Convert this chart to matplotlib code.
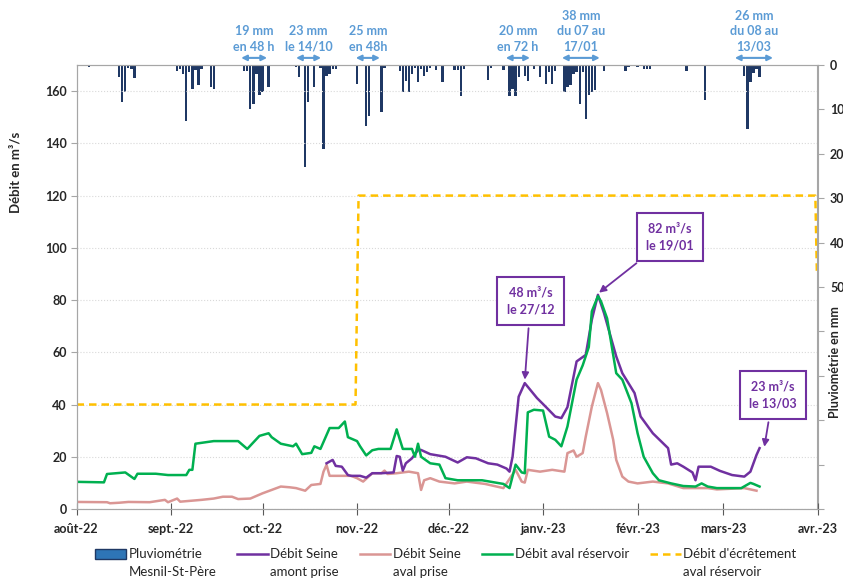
import numpy as np
import pandas as pd
import matplotlib
matplotlib.use("Agg")
import matplotlib.pyplot as plt
import matplotlib.dates as mdates
from matplotlib.patches import Patch
from matplotlib.lines import Line2D
from matplotlib.legend_handler import HandlerLine2D, HandlerPatch

plt.rcParams['font.family'] = ['Lato', 'DejaVu Sans']

# jours depuis le 01/08/2022
debut = pd.Timestamp('2022-08-01')
fin = pd.Timestamp('2023-04-01')

# Pluviométrie Mesnil-St-Père (mm/jour)
pluie_j = [4, 14, 15, 16, 17, 18, 19, 20, 33, 34, 35, 36, 37, 38, 39, 40, 41, 42, 44, 45, 48,
           55, 56, 57, 58, 59, 60, 61, 63, 65, 72, 73, 75, 76, 78, 80, 81, 82, 83, 84, 85, 86,
           92, 95, 96, 100, 101, 102, 105, 106, 107, 108, 109, 110, 111, 112, 113, 114, 115, 116,
           118, 120, 121, 124, 125, 126, 127, 128, 135, 136, 140, 142, 143, 144, 145, 147, 148,
           150, 152, 154, 155, 156, 157, 160, 161, 162, 163, 164, 165, 166, 167, 168, 169, 170,
           173, 180, 181, 182, 183, 184, 186, 187, 188, 200, 201, 206, 207, 219, 220, 221, 222,
           223, 224]
pluie_mm = [0.5, 2.8, 8.4, 6.1, 0.7, 0.8, 3.0, 0.3, 1.3, 1.0, 2.0, 12.6, 1.6, 5.4, 1.2, 4.6, 1.0,
            0.3, 5.0, 5.4, 0.3, 1.3, 1.3, 9.8, 8.8, 2.0, 6.8, 6.1, 5.0, 0.3, 0.5, 2.8, 23.0, 8.4,
            5.0, 0.7, 18.9, 2.5, 2.0, 1.0, 0.8, 0.3, 4.3, 13.7, 11.4, 10.5, 0.7, 0.3, 0.3, 1.3,
            6.1, 3.5, 6.0, 2.0, 0.7, 3.9, 1.0, 2.4, 1.6, 0.7, 1.1, 3.9, 0.2, 1.2, 1.2, 6.9, 1.0,
            0.3, 3.3, 0.7, 1.2, 6.9, 5.5, 6.9, 2.8, 2.5, 3.5, 0.9, 2.6, 4.3, 1.6, 4.3, 1.3, 6.1,
            5.0, 4.6, 2.0, 1.5, 8.8, 1.5, 12.2, 6.8, 6.1, 5.7, 1.3, 1.3, 0.4, 0.3, 0.3, 0.4, 0.9,
            0.9, 0.9, 1.3, 0.3, 7.8, 0.2, 2.4, 14.4, 3.9, 1.7, 1.0, 2.8]

# Débit Seine amont prise (m3/s)
amont_j = [82, 84, 85, 87, 89, 90, 93, 95, 97, 100, 104, 105, 106, 107, 108, 110, 112, 113, 116,
           121, 125, 128, 131, 135, 138, 141, 142, 143, 145, 147, 151, 154, 157, 159, 161, 164,
           167, 169, 171, 173, 177, 179, 183, 185, 189, 194, 195, 197, 199, 202, 203, 204, 208,
           211, 215, 219, 221, 223, 224]
amont_q = [17.5, 18.8, 16.5, 16.2, 13.0, 12.7, 12.7, 12.0, 13.7, 13.7, 14.0, 20.3, 20.0, 14.7,
           17.5, 19.4, 22.6, 22.6, 21.0, 20.0, 17.8, 19.8, 19.4, 17.5, 17.0, 15.5, 14.3, 20.0,
           43.0, 48.2, 42.5, 39.0, 35.4, 34.8, 39.0, 56.5, 59.0, 72.5, 82.0, 75.0, 58.4, 52.0,
           44.4, 35.4, 29.0, 23.3, 17.0, 17.5, 16.2, 14.0, 11.0, 16.2, 16.2, 14.6, 13.0, 12.4,
           14.3, 20.7, 23.3]

# Débit Seine aval prise (m3/s)
aval_j = [0, 10, 11, 14, 17, 24, 29, 30, 33, 34, 38, 41, 45, 48, 51, 53, 57, 61, 64, 67, 70, 72,
          75, 77, 80, 81, 82, 83, 90, 92, 94, 97, 100, 101, 102, 105, 109, 112, 113, 114, 116,
          119, 124, 128, 134, 140, 144, 146, 147, 148, 152, 156, 160, 161, 163, 164, 166, 167,
          169, 171, 172, 174, 176, 177, 179, 181, 184, 189, 194, 199, 203, 207, 210, 219, 223]
aval_q = [2.7, 2.6, 2.2, 2.4, 2.7, 2.6, 3.5, 2.6, 4.0, 2.8, 3.2, 3.5, 4.0, 4.7, 4.7, 3.8, 4.0,
          6.0, 7.3, 8.6, 8.3, 8.0, 7.0, 9.2, 9.6, 14.3, 16.9, 12.7, 12.7, 11.8, 10.5, 13.7, 13.7,
          14.7, 13.4, 13.7, 14.3, 13.7, 7.3, 11.0, 11.8, 10.5, 9.8, 10.5, 9.6, 8.0, 15.0, 10.5,
          10.1, 15.0, 14.3, 15.0, 14.3, 21.4, 22.4, 20.0, 21.4, 27.7, 39.2, 48.2, 45.6, 36.7,
          26.5, 18.8, 12.4, 10.5, 9.8, 10.5, 9.8, 8.0, 8.0, 8.0, 7.5, 8.0, 7.0]

# Débit aval réservoir (m3/s)
res_j = [0, 9, 10, 16, 19, 20, 26, 30, 36, 37, 38, 39, 45, 53, 56, 60, 63, 64, 67, 71, 72, 74,
         77, 78, 80, 83, 86, 88, 89, 92, 93, 95, 97, 99, 103, 105, 107, 110, 111, 112, 113, 116,
         119, 121, 125, 133, 140, 142, 144, 146, 147, 148, 150, 153, 155, 157, 159, 161, 164,
         166, 168, 169, 171, 172, 174, 177, 179, 182, 184, 186, 189, 191, 195, 199, 203, 205,
         207, 210, 218, 221, 222, 224]
res_q = [10.4, 10.2, 13.4, 14.0, 11.5, 13.5, 13.5, 13.0, 13.0, 15.0, 15.0, 25.0, 26.0, 26.0,
         23.0, 28.0, 29.0, 27.5, 25.0, 24.0, 25.0, 21.0, 21.5, 24.0, 23.0, 31.0, 31.0, 33.5,
         27.5, 26.0, 24.0, 20.5, 22.5, 23.0, 23.0, 30.5, 23.0, 23.0, 20.0, 25.0, 20.0, 17.5,
         17.0, 11.8, 11.0, 11.0, 9.6, 8.0, 17.0, 14.0, 13.7, 37.0, 38.0, 37.7, 27.7, 26.5, 24.0,
         31.6, 49.5, 55.0, 62.0, 75.7, 81.5, 79.5, 73.0, 52.0, 49.5, 40.5, 29.0, 20.0, 13.7,
         11.0, 9.8, 8.8, 8.6, 9.8, 8.6, 8.0, 8.0, 10.0, 9.6, 8.6]

# Débit d'écrêtement aval réservoir
ecr_j = [0, 91.5, 92.5, 242.3, 242.8]
ecr_q = [40, 40, 120, 120, 90]

mois = ['août-22', 'sept.-22', 'oct.-22', 'nov.-22', 'déc.-22', 'janv.-23', 'févr.-23',
        'mars-23', 'avr.-23']

x0 = mdates.date2num(debut)
def jx(j):
    return x0 + np.asarray(j, dtype=float)

VIOLET = '#7030A0'
ROSE = '#DA9694'
VERT = '#00B050'
ORANGE = '#FFC000'
NAVY = '#1F3864'
BLEU = '#5B9BD5'
GRIS = '#A6A6A6'

# poignées de légende alignées sur la 1re ligne du texte
DECAL = 7

class HautLigne(HandlerLine2D):
    def create_artists(self, *args, **kw):
        arts = super().create_artists(*args, **kw)
        for a in arts:
            a.set_ydata(np.asarray(a.get_ydata()) + DECAL)
        return arts

class HautPatch(HandlerPatch):
    def create_artists(self, *args, **kw):
        arts = super().create_artists(*args, **kw)
        for a in arts:
            a.set_y(a.get_y() + DECAL)
        return arts

fig = plt.figure(figsize=(8.43, 5.88), dpi=100)
ax = fig.add_axes([76.5 / 843, 79 / 588, 741 / 843, 444 / 588])
ax2 = ax.twinx()

ax2.bar(jx(pluie_j), pluie_mm, width=0.75, color=NAVY, align='center')
ax2.set_ylim(100, 0)
ax2.set_yticks(range(0, 101, 10))
ax2.set_yticklabels(['0', '10', '20', '30', '40', '50', '', '', '', '', ''])

ax.plot(jx(ecr_j), ecr_q, color=ORANGE, lw=1.8, ls=(0, (3, 2)))
ax.plot(jx(aval_j), aval_q, color=ROSE, lw=1.8)
ax.plot(jx(amont_j), amont_q, color=VIOLET, lw=1.8)
ax.plot(jx(res_j), res_q, color=VERT, lw=1.8)

ax.set_zorder(ax2.get_zorder() + 1)
ax.patch.set_visible(False)

ax.set_ylim(0, 170)
ax.set_yticks(range(0, 161, 20))
ax.set_xlim(mdates.date2num(debut), mdates.date2num(fin))
ticks = pd.date_range(debut, fin, freq='MS')
ax.set_xticks(mdates.date2num(ticks))
ax.set_xticklabels(mois)
ax.grid(axis='y', color='#D9D9D9', lw=0.8, ls=':')

for a in (ax, ax2):
    for s in a.spines.values():
        s.set_color(GRIS)
ax.tick_params(axis='x', direction='inout', length=8, color='#595959', pad=6)
ax.tick_params(axis='y', length=4, color=GRIS, pad=3)
ax2.tick_params(axis='y', length=4, color=GRIS, pad=5)
for lab in ax.get_xticklabels() + ax.get_yticklabels() + ax2.get_yticklabels():
    lab.set_fontsize(9)
    lab.set_fontweight('bold')
    lab.set_color('#262626')

fig.text(16 / 843, 1 - 172 / 588, 'Débit en m³/s', rotation=90, ha='center', va='center',
         fontsize=9.5, fontweight='bold', color='#262626')
fig.text(835 / 843, 1 - 362 / 588, 'Pluviométrie en mm', rotation=90, ha='center',
         va='center', fontsize=9, fontweight='bold', color='#262626')

# annotations pluie
trans = ax.get_xaxis_transform()
notes_pluie = [
    ('19 mm\nen 48 h', 54, 62.5),
    ('23 mm\nle 14/10', 72, 80.2),
    ('25 mm\nen 48h', 91.6, 99.5),
    ('20 mm\nen 72 h', 140.8, 148.7),
    ('38 mm\ndu 07 au\n17/01', 159.2, 171.6),
    ('26 mm\ndu 08 au\n13/03', 215.9, 228.4),
]
for txt, a, b in notes_pluie:
    ax.annotate('', xy=(jx(a), 1.016), xytext=(jx(b), 1.016), xycoords=trans,
                textcoords=trans, annotation_clip=False,
                arrowprops=dict(arrowstyle='<|-|>', color=BLEU, lw=1.5, mutation_scale=8,
                                shrinkA=0, shrinkB=0))
    ax.text(jx((a + b) / 2), 1.028, txt, transform=trans, ha='center', va='bottom',
            fontsize=9, fontweight='bold', color=BLEU, linespacing=1.35)

# annotations débit
boite = dict(boxstyle='square,pad=0.75', fc='white', ec=VIOLET, lw=1.5)
fleche = dict(arrowstyle='-|>', color=VIOLET, lw=1.3, mutation_scale=10, shrinkB=1)
i82 = int(np.argmax(amont_q))
i48 = int(np.argmax(amont_q[:i82 - 5]))
ax.annotate('82 m³/s\nle 19/01', xy=(jx(amont_j[i82]), amont_q[i82] + 0.5),
            xytext=(jx(194.6), 104.2), ha='center', va='center', fontsize=9,
            fontweight='bold', color=VIOLET, bbox=boite, arrowprops=fleche, linespacing=1.5)
ax.annotate('48 m³/s\nle 27/12', xy=(jx(amont_j[i48]), amont_q[i48] + 0.8),
            xytext=(jx(148.9), 79.7), ha='center', va='center', fontsize=9,
            fontweight='bold', color=VIOLET, bbox=boite, arrowprops=fleche, linespacing=1.5)
ax.annotate('23 m³/s\nle 13/03', xy=(jx(amont_j[-1] + 1.5), amont_q[-1]),
            xytext=(jx(228.4), 43.7), ha='center', va='center', fontsize=9,
            fontweight='bold', color=VIOLET, bbox=boite, arrowprops=fleche, linespacing=1.5)

poignees = [
    Patch(facecolor='#2E75B6', edgecolor=NAVY, lw=1),
    Line2D([], [], color=VIOLET, lw=1.8),
    Line2D([], [], color=ROSE, lw=1.8),
    Line2D([], [], color=VERT, lw=1.8),
    Line2D([], [], color=ORANGE, lw=1.8, ls=(0, (3, 2))),
]
noms = ['Pluviométrie\nMesnil-St-Père', 'Débit Seine\namont prise', 'Débit Seine\naval prise',
        'Débit aval réservoir\n ', "Débit d'écrêtement\naval réservoir"]
leg = fig.legend(poignees, noms, loc='center', bbox_to_anchor=(446 / 843, 1 - 563 / 588),
                 ncol=5, frameon=False, fontsize=9.5, handlelength=2.3, handletextpad=0.2,
                 columnspacing=1.6, handleheight=0.75,
                 handler_map={Line2D: HautLigne(), Patch: HautPatch()})
for t in leg.get_texts():
    t.set_linespacing(1.5)
    t.set_multialignment('left')
    t.set_color('#262626')

fig.savefig('out.png', dpi=100)
